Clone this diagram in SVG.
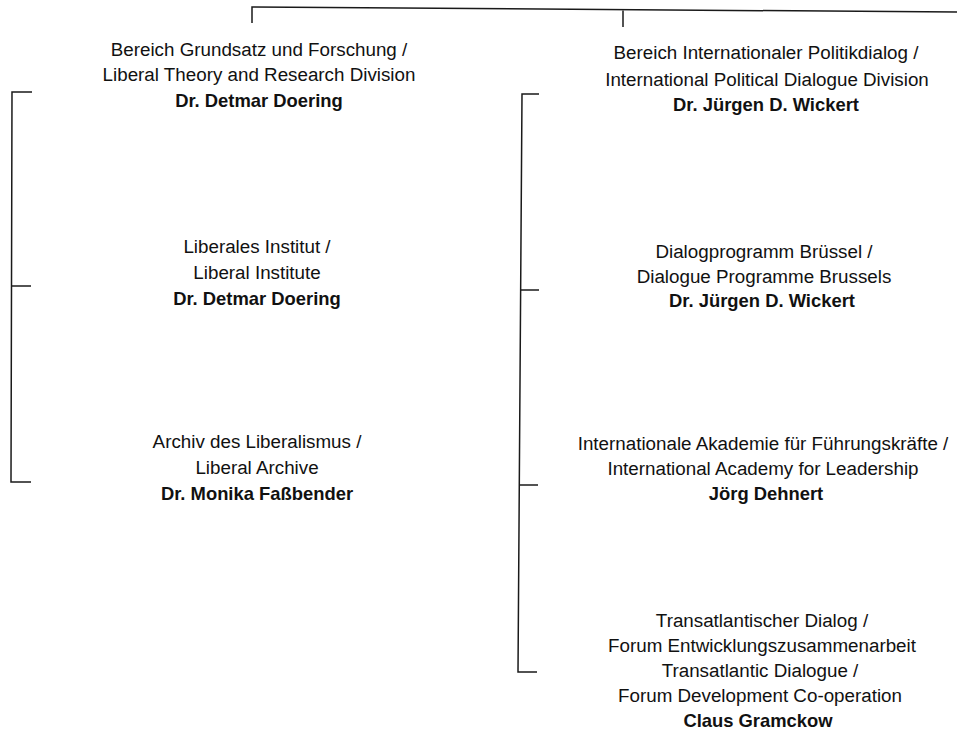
<svg xmlns="http://www.w3.org/2000/svg" width="957" height="733" viewBox="0 0 957 733">
<style>
.t{font-family:"Liberation Sans",Arial,sans-serif;font-size:18.8px;fill:#111;text-anchor:middle}
.b{font-weight:bold;font-size:18.4px}
.c{stroke:#1a1a1a;stroke-width:1.5;fill:none}
</style>
<rect width="957" height="733" fill="#fff"/>
<g id="connectors" class="c">
<path d="M252,23 L252,7 L957,12"/>
<path d="M623,10.5 L623,27"/>
<path d="M32,92 L12,92 L11,482 L31,482"/>
<path d="M12,286 L31,286"/>
<path d="M539,94 L522,94 L518,672 L537,672"/>
<path d="M521,290 L539,290"/>
<path d="M519,485 L538,485"/>
</g>
<g id="node-grundsatz">
<text class="t" x="259" y="56">Bereich Grundsatz und Forschung /</text>
<text class="t" x="259" y="81">Liberal Theory and Research Division</text>
<text class="t b" x="259" y="107">Dr. Detmar Doering</text>
</g>
<g id="node-institut">
<text class="t" x="257" y="253">Liberales Institut /</text>
<text class="t" x="257" y="279">Liberal Institute</text>
<text class="t b" x="257" y="305">Dr. Detmar Doering</text>
</g>
<g id="node-archiv">
<text class="t" x="257" y="448">Archiv des Liberalismus /</text>
<text class="t" x="257" y="474">Liberal Archive</text>
<text class="t b" x="257" y="500">Dr. Monika Faßbender</text>
</g>
<g id="node-politikdialog">
<text class="t" x="766" y="59">Bereich Internationaler Politikdialog /</text>
<text class="t" x="767" y="86">International Political Dialogue Division</text>
<text class="t b" x="766" y="111">Dr. Jürgen D. Wickert</text>
</g>
<g id="node-bruessel">
<text class="t" x="764" y="258">Dialogprogramm Brüssel /</text>
<text class="t" x="764" y="283">Dialogue Programme Brussels</text>
<text class="t b" x="762" y="307">Dr. Jürgen D. Wickert</text>
</g>
<g id="node-akademie">
<text class="t" x="763" y="450">Internationale Akademie für Führungskräfte /</text>
<text class="t" x="763" y="475">International Academy for Leadership</text>
<text class="t b" x="766" y="500">Jörg Dehnert</text>
</g>
<g id="node-transatlantisch">
<text class="t" x="762" y="627">Transatlantischer Dialog /</text>
<text class="t" x="762" y="652">Forum Entwicklungszusammenarbeit</text>
<text class="t" x="760" y="677">Transatlantic Dialogue /</text>
<text class="t" x="760" y="702">Forum Development Co-operation</text>
<text class="t b" x="758" y="727">Claus Gramckow</text>
</g>
</svg>
